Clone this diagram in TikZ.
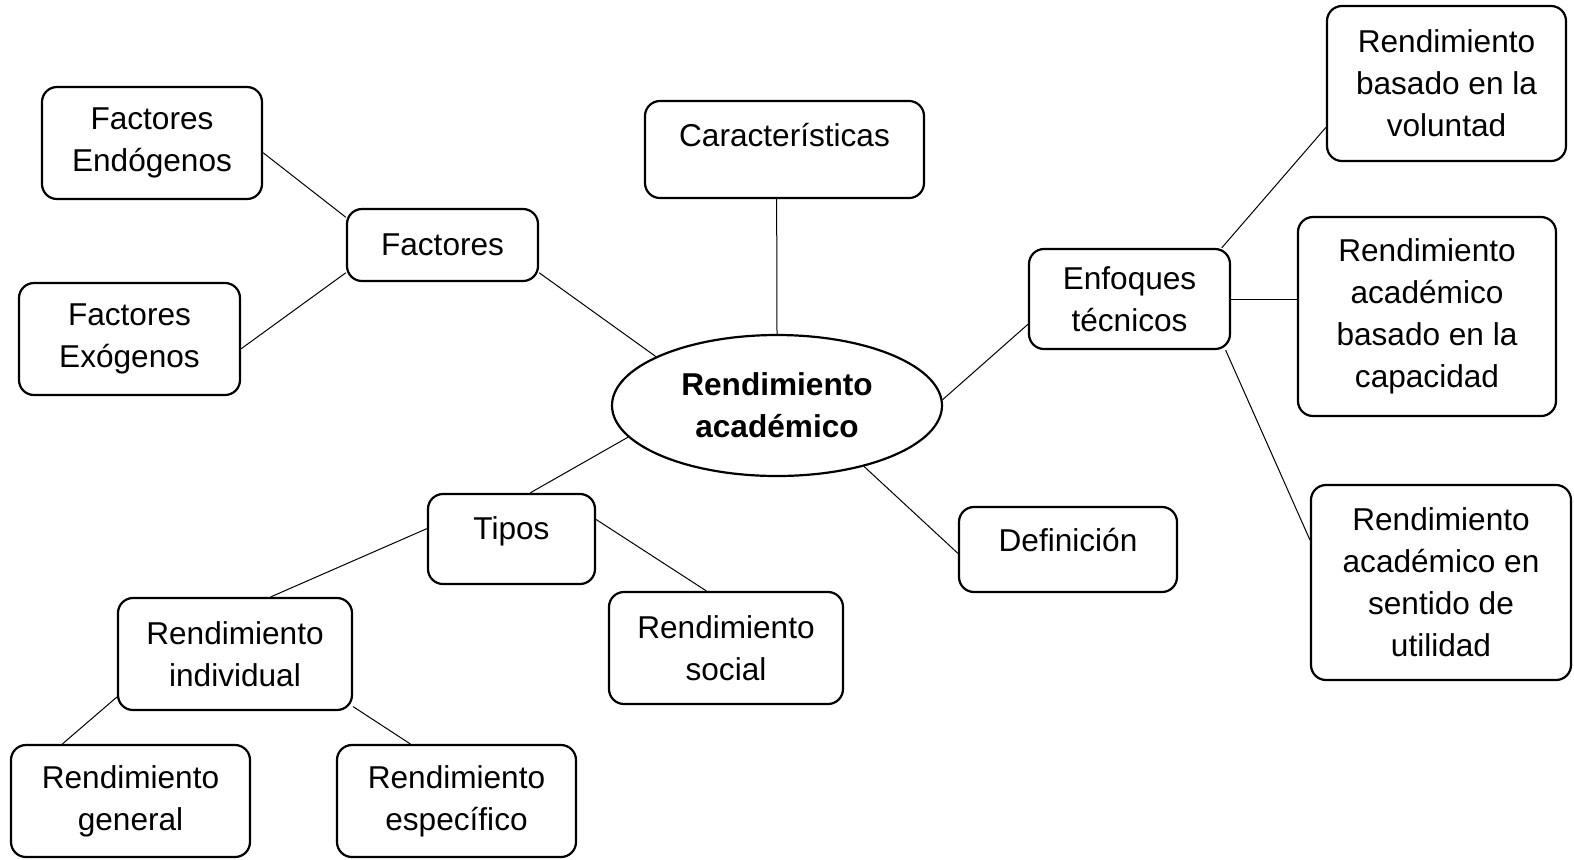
\documentclass[tikz,border=0pt]{standalone}
\usepackage{fontspec}
\setmainfont{Liberation Sans}
\usetikzlibrary{shapes.geometric}

\begin{document}
\begin{tikzpicture}[x=0.5pt,y=-0.5pt,
  box/.style={draw,rounded corners=7.5pt,line width=1.1pt,align=center,
    font=\fontsize{15.8}{21}\selectfont},
  conn/.style={line width=0.5pt}]
  \useasboundingbox (0,0) rectangle (1574,859);
  % centro
  \node[ellipse,draw,line width=1.1pt,minimum width=165pt,minimum height=70.5pt,inner sep=0pt,
    align=center,font=\fontsize{15.8}{21}\selectfont\bfseries] (rend) at (777,405.5) {Rendimiento\\acad\'emico};
  % factores
  \node[box,minimum width=95.5pt,minimum height=36pt] (factores) at (442.5,245) {Factores};
  \node[box,minimum width=110pt,minimum height=56pt] (fact_end) at (152,143) {Factores\\End\'ogenos};
  \node[box,minimum width=110.5pt,minimum height=56pt] (fact_exo) at (129.5,339) {Factores\\Ex\'ogenos};
  \node[box,minimum width=139.5pt,minimum height=48.5pt,text height=11pt,text depth=14.1pt] (caract) at (784.5,149.5) {Caracter\'isticas};
  % enfoques
  \node[box,minimum width=100.5pt,minimum height=50pt] (enfoques) at (1129.5,299) {Enfoques\\t\'ecnicos};
  \node[box,minimum width=119.5pt,minimum height=77.5pt] (r_vol) at (1446.5,83.5) {Rendimiento\\basado en la\\voluntad};
  \node[box,minimum width=129pt,minimum height=99.5pt] (r_cap) at (1427,316.5) {Rendimiento\\acad\'emico\\basado en la\\capacidad};
  \node[box,minimum width=130pt,minimum height=97.5pt] (r_util) at (1441,582.5) {Rendimiento\\acad\'emico en\\sentido de\\utilidad};
  \node[box,minimum width=109pt,minimum height=42.5pt,text height=11pt,text depth=9.1pt] (defin) at (1068,549.5) {Definici\'on};
  % tipos
  \node[box,minimum width=83.5pt,minimum height=45pt,text height=11pt,text depth=10.6pt] (tipos) at (511.5,539) {Tipos};
  \node[box,minimum width=117pt,minimum height=56pt] (r_ind) at (235,654) {Rendimiento\\individual};
  \node[box,minimum width=117pt,minimum height=56pt] (r_soc) at (726,648) {Rendimiento\\social};
  \node[box,minimum width=119.5pt,minimum height=56pt] (r_gen) at (130.5,801) {Rendimiento\\general};
  \node[box,minimum width=119.5pt,minimum height=56pt] (r_esp) at (456.5,801) {Rendimiento\\espec\'ifico};

  \path[conn]
    (fact_end.-5) edge (factores.164)
    (fact_exo.-5) edge (factores.-164)
    (factores.-16) edge (rend.158)
    (caract.-99) edge (rend.north)
    (rend.2) edge (enfoques.-166)
    (enfoques.29) edge (r_vol.-160)
    (enfoques.east) edge (enfoques.east -| r_cap.west)
    (enfoques.-28) edge (r_util.162)
    (rend.-35) edge (defin.-178)
    (rend.-168) edge (tipos.68)
    (tipos.173) edge (r_ind.58)
    (tipos.13) edge (r_soc.109)
    (r_ind.-160) edge (r_gen.140)
    (r_ind.-24) edge (r_esp.129);
\end{tikzpicture}
\end{document}
